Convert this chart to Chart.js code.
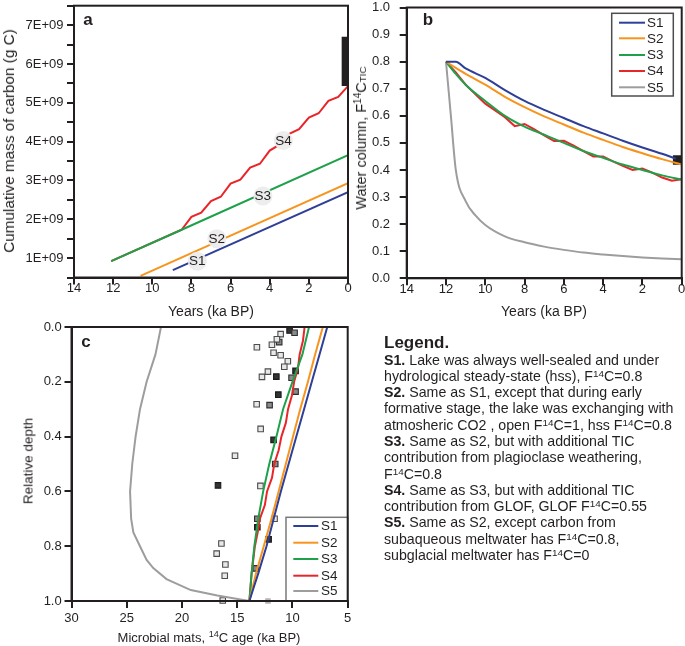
<!DOCTYPE html>
<html>
<head>
<meta charset="utf-8">
<script src="https://cdn.jsdelivr.net/npm/chart.js@4"></script>
<style>
  body { margin: 0; width: 685px; height: 646px; overflow: hidden; background: #fff; position: relative;
         font-family: "Liberation Sans", Arial, sans-serif; color: #231f20; }
  canvas { position: absolute; }
  .t { position: absolute; font-size: 13px; white-space: nowrap; }
  .rot { transform: translate(-50%, -50%) rotate(-90deg); }
  .ctr { transform: translate(-50%, -50%); }
  .pl { position: absolute; font-weight: bold; font-size: 17px; transform: translate(-50%, -50%); }
  sup { font-size: 0.7em; line-height: 0; vertical-align: 0.45em; }
  .sm { font-size: 0.68em; }
  #notes { position: absolute; left: 384px; top: 333px; font-size: 14.2px; line-height: 16.3px; white-space: nowrap; }
  #notes .hd { font-weight: bold; font-size: 17px; line-height: 19px; margin-bottom: -0.5px; }
</style>
</head>
<body>
<canvas id="ca" width="360" height="330" style="left:0;top:-10px"></canvas>
<canvas id="cb" width="360" height="330" style="left:340px;top:-10px"></canvas>
<canvas id="cc" width="360" height="336" style="left:0;top:310px"></canvas>

<div class="pl" style="left:88px;top:20px">a</div>
<div class="pl" style="left:428px;top:20px">b</div>
<div class="pl" style="left:86px;top:342px">c</div>

<div class="t rot" style="left:9px;top:141px;font-size:15.3px">Cumulative mass of carbon (g C)</div>
<div class="t ctr" style="left:211px;top:311px;font-size:14px">Years (ka BP)</div>
<div class="t rot" style="left:361px;top:138px;font-size:14.5px">Water column, F<sup>14</sup>C<span class="sm">TIC</span></div>
<div class="t ctr" style="left:544px;top:311px;font-size:14px">Years (ka BP)</div>
<div class="t rot" style="left:28px;top:461px;font-size:13.5px">Relative depth</div>
<div class="t ctr" style="left:209px;top:637px">Microbial mats, <sup>14</sup>C age (ka BP)</div>

<div id="notes">
<div class="hd">Legend.</div>
<b>S1.</b> Lake was always well-sealed and under<br>
hydrological steady-state (hss), F<sup>14</sup>C=0.8<br>
<b>S2.</b> Same as S1, except that during early<br>
formative stage, the lake was exchanging with<br>
atmosheric CO2 , open F<sup>14</sup>C=1, hss F<sup>14</sup>C=0.8<br>
<b>S3.</b> Same as S2, but with additional TIC<br>
contribution from plagioclase weathering,<br>
F<sup>14</sup>C=0.8<br>
<b>S4.</b> Same as S3, but with additional TIC<br>
contribution from GLOF, GLOF F<sup>14</sup>C=0.55<br>
<b>S5.</b> Same as S2, except carbon from<br>
subaqueous meltwater has F<sup>14</sup>C=0.8,<br>
subglacial meltwater has F<sup>14</sup>C=0
</div>

<script>
// ---- panel a: cumulative mass of carbon (units of 1E+09 g C) vs ka BP
const aYearsS1 = [8.95, 0];
const aMassS1 = [0.69, 2.70];
const aYearsS2 = [10.6, 0];
const aMassS2 = [0.54, 2.93];
const aYearsS3 = [12.1, 8.5, 0];
const aMassS3 = [0.92, 1.73, 3.65];
const aYearsS4 = [12.1, 8.5, 8.0, 7.5, 7.0, 6.5, 6.0, 5.5, 5.0, 4.5, 4.0, 3.5, 3.0, 2.5, 2.0, 1.5, 1.0, 0.5, 0];
const aMassS4 = [0.92, 1.73, 2.06, 2.17, 2.47, 2.58, 2.92, 3.02, 3.33, 3.43, 3.77, 3.92, 4.2, 4.32, 4.62, 4.73, 5.05, 5.15, 5.43];
const aObsYears = [0.17, 0.17];
const aObsMass = [5.43, 6.7];
const aTagText = ['S1', 'S2', 'S3', 'S4'];
const aTagYears = [7.7, 6.7, 4.35, 3.3];
const aTagMass = [0.92, 1.5, 2.6, 4.03];

// ---- panel b: water column F14C TIC vs ka BP
const bYearsS1 = [12, 11.5, 11, 10, 9, 8, 7, 6, 5, 4, 3, 2, 1, 0.3];
const bFS1 = [0.8, 0.8, 0.775, 0.74, 0.695, 0.655, 0.622, 0.592, 0.562, 0.535, 0.508, 0.483, 0.46, 0.442];
const bYearsS2 = [12, 11.5, 11, 10, 9, 8, 7, 6, 5, 4, 3, 2, 1, 0];
const bFS2 = [0.8, 0.777, 0.755, 0.715, 0.67, 0.632, 0.598, 0.568, 0.538, 0.511, 0.485, 0.462, 0.44, 0.42];
const bYearsS3 = [12, 11.5, 11, 10.5, 10, 9, 8, 7, 6, 5, 4, 3, 2, 1, 0];
const bFS3 = [0.8, 0.755, 0.715, 0.683, 0.655, 0.6, 0.56, 0.53, 0.5, 0.47, 0.445, 0.42, 0.4, 0.38, 0.365];
const bYearsS4 = [12, 11.5, 11, 10.5, 10, 9.5, 9, 8.5, 8, 7.5, 7, 6.5, 6, 5.5, 5, 4.5, 4, 3.5, 3, 2.5, 2, 1.5, 1, 0.5, 0];
const bFS4 = [0.8, 0.76, 0.715, 0.68, 0.645, 0.62, 0.595, 0.562, 0.57, 0.55, 0.528, 0.507, 0.508, 0.49, 0.47, 0.45, 0.45, 0.432, 0.415, 0.4, 0.405, 0.39, 0.372, 0.36, 0.366];
const bYearsS5 = [12, 11.75, 11.5, 11, 10.5, 10, 9, 8, 7, 6, 5, 4, 3, 2, 1, 0];
const bFS5 = [0.8, 0.6, 0.4, 0.285, 0.232, 0.197, 0.155, 0.133, 0.117, 0.105, 0.095, 0.088, 0.082, 0.077, 0.073, 0.07];
const bObsYears = [0.21];
const bObsF = [0.437];

// ---- panel c: microbial mats 14C age (ka BP) vs relative depth
const cDepth = [0, 0.1, 0.2, 0.3, 0.4, 0.5, 0.6, 0.7, 0.8, 0.9, 0.95, 1.0];
const cAgeS1 = [6.85, 7.55, 8.25, 8.95, 9.65, 10.35, 11.05, 11.7, 12.35, 13.1, 13.5, 13.9];
const cAgeS2 = [7.25, 7.95, 8.6, 9.3, 9.95, 10.6, 11.25, 11.9, 12.6, 13.3, 13.6, 13.9];
const cAgeS3 = [8.5, 9.1, 10.0, 10.85, 11.45, 12.1, 12.65, 13.1, 13.45, 13.7, 13.8, 13.9];
const cDepthS4 = [0, 0.05, 0.1, 0.15, 0.2, 0.25, 0.3, 0.35, 0.4, 0.45, 0.5, 0.55, 0.6, 0.65, 0.7, 0.75, 0.8, 0.9, 1.0];
const cAgeS4 = [8.9, 9.05, 9.35, 9.5, 9.85, 10.05, 10.4, 10.6, 11.0, 11.25, 11.65, 11.85, 12.3, 12.5, 12.95, 13.15, 13.4, 13.7, 13.9];
const cDepthS5 = [0, 0.1, 0.2, 0.3, 0.4, 0.5, 0.6, 0.7, 0.75, 0.8, 0.85, 0.88, 0.92, 0.96, 0.98, 1.0];
const cAgeS5 = [21.9, 22.4, 23.2, 23.8, 24.2, 24.5, 24.7, 24.6, 24.4, 23.8, 23.2, 22.6, 21.4, 19.2, 16.8, 13.9];
const cLightAge = [11.07, 11.41, 11.86, 13.22, 11.71, 11.07, 10.42, 10.74, 12.22, 12.76, 13.24, 12.88, 15.2, 12.9, 11.62, 16.43, 16.86, 16.07, 16.13, 16.31];
const cLightDepth = [0.026, 0.045, 0.065, 0.074, 0.094, 0.103, 0.125, 0.145, 0.163, 0.182, 0.282, 0.372, 0.47, 0.58, 0.70, 0.79, 0.827, 0.867, 0.908, 0.998];
const cMedAge = [9.81, 11.2, 10.08, 9.72, 12.07, 11.56, 13.18, 13.33];
const cMedDepth = [0.021, 0.055, 0.185, 0.236, 0.285, 0.5, 0.70, 0.881];
const cDarkAge = [10.26, 9.72, 11.46, 11.28, 11.71, 16.74, 13.18, 12.16];
const cDarkDepth = [0.013, 0.16, 0.181, 0.247, 0.412, 0.578, 0.731, 0.775];
const cPaleAge = [12.22];
const cPaleDepth = [1.0];

const INK = '#231f20';
const BLUE = '#2e3f98', ORANGE = '#f7941d', GREEN = '#1fa04a', RED = '#e8262a', GREY = '#9d9d9d';

Chart.defaults.font.family = '"Liberation Sans", Arial, sans-serif';
Chart.defaults.font.size = 13;
Chart.defaults.color = INK;

const pts = (xs, ys) => xs.map((x, i) => ({ x: x, y: ys[i] }));

function line(label, xs, ys, color, extra) {
  return Object.assign({ label, data: pts(xs, ys), showLine: true, borderColor: color, backgroundColor: color,
    borderWidth: 2, pointRadius: 0, inLegend: true }, extra || {});
}

function marks(xs, ys, fill, border) {
  return { data: pts(xs, ys), pointStyle: 'rect', pointRadius: 3.9, borderWidth: border ? 1.1 : 0,
    backgroundColor: fill, borderColor: border || fill, clip: false };
}

function axis(o) {
  return {
    type: 'linear', min: o.min, max: o.max, reverse: !!o.reverse,
    grid: { drawOnChartArea: false, drawTicks: true, tickLength: 7, lineWidth: 2, color: INK },
    border: { display: true, width: 2, color: INK },
    ticks: { stepSize: o.step, padding: o.pad, color: INK, font: { size: 13 }, maxRotation: 0, autoSkip: false,
      callback: o.fmt || (v => v) },
    afterFit: o.fit
  };
}

const frame = {
  id: 'frame',
  afterDatasetsDraw(chart) {
    const { ctx, chartArea: a } = chart;
    ctx.save();
    ctx.strokeStyle = INK;
    ctx.lineWidth = 2;
    ctx.strokeRect(a.left, a.top, a.right - a.left, a.bottom - a.top);
    ctx.restore();
  }
};

const legendBox = {
  id: 'legendBox',
  afterDatasetsDraw(chart, args, o) {
    if (!o || !o.rows) return;
    const ctx = chart.ctx;
    const items = chart.data.datasets.filter(d => d.inLegend);
    ctx.save();
    ctx.fillStyle = '#fff';
    ctx.fillRect(o.x, o.y, o.w, o.h);
    ctx.strokeStyle = o.border;
    ctx.lineWidth = 1.5;
    ctx.strokeRect(o.x, o.y, o.w, o.h);
    ctx.font = '13.5px "Liberation Sans", Arial, sans-serif';
    ctx.textBaseline = 'middle';
    items.forEach((d, i) => {
      const y = o.rows[i];
      ctx.strokeStyle = d.borderColor;
      ctx.lineWidth = 2;
      ctx.beginPath(); ctx.moveTo(o.lx0, y); ctx.lineTo(o.lx1, y); ctx.stroke();
      ctx.fillStyle = INK;
      ctx.fillText(d.label, o.tx, y + 0.5);
    });
    ctx.restore();
  }
};

const lineTags = {
  id: 'lineTags',
  afterDatasetsDraw(chart) {
    const { ctx, scales: { x, y } } = chart;
    ctx.save();
    ctx.font = '13.5px "Liberation Sans", Arial, sans-serif';
    ctx.textAlign = 'center';
    ctx.textBaseline = 'middle';
    aTagText.forEach((t, i) => {
      const px = x.getPixelForValue(aTagYears[i]), py = y.getPixelForValue(aTagMass[i]);
      ctx.fillStyle = 'rgba(236,236,236,0.95)';
      ctx.beginPath(); ctx.arc(px, py, 9.5, 0, Math.PI * 2); ctx.fill();
      ctx.fillStyle = INK;
      ctx.fillText(t, px, py + 0.5);
    });
    ctx.restore();
  }
};

const base = {
  responsive: false, animation: false, devicePixelRatio: 1,
  plugins: { legend: { display: false }, tooltip: { enabled: false } }
};
const smooth = { cubicInterpolationMode: 'monotone' };

// panel a
new Chart(document.getElementById('ca'), {
  type: 'scatter',
  data: { datasets: [
    line('S1', aYearsS1, aMassS1, BLUE),
    line('S2', aYearsS2, aMassS2, ORANGE),
    line('S3', aYearsS3, aMassS3, GREEN),
    line('S4', aYearsS4, aMassS4, RED),
    { data: pts(aObsYears, aObsMass), showLine: true, borderColor: INK, borderWidth: 6, borderCapStyle: 'butt', pointRadius: 0 }
  ] },
  options: Object.assign({}, base, {
    layout: { padding: { left: 0, top: 15.7, right: 12, bottom: 0 } },
    scales: {
      x: axis({ min: 0, max: 14, reverse: true, step: 2, pad: -4, fit: s => { s.height = 42.5; } }),
      y: axis({ min: 0.5, max: 7.5, step: 0.5, pad: 3.5, fmt: v => Number.isInteger(v) ? v + 'E+09' : '',
        fit: s => { s.width = 74; } })
    }
  }),
  plugins: [lineTags, frame]
});

// panel b
new Chart(document.getElementById('cb'), {
  type: 'scatter',
  data: { datasets: [
    line('S1', bYearsS1, bFS1, BLUE, smooth),
    line('S2', bYearsS2, bFS2, ORANGE, smooth),
    line('S3', bYearsS3, bFS3, GREEN, smooth),
    line('S4', bYearsS4, bFS4, RED),
    line('S5', bYearsS5, bFS5, GREY, smooth),
    { data: pts(bObsYears, bObsF), pointStyle: 'rect', pointRadius: 6.6, backgroundColor: INK, borderWidth: 0 }
  ] },
  options: Object.assign({}, base, {
    layout: { padding: { left: 0, top: 15.7, right: 18.3, bottom: 0 } },
    plugins: Object.assign({}, base.plugins, {
      legendBox: { x: 271.7, y: 23.3, w: 61.6, h: 82.7, border: '#4d4d4d',
        rows: [32.7, 48.3, 65, 81, 97.3], lx0: 279, lx1: 305, tx: 307 }
    }),
    scales: {
      x: axis({ min: 0, max: 14, reverse: true, step: 2, pad: -4, fit: s => { s.height = 41.7; } }),
      y: axis({ min: 0, max: 1, step: 0.1, pad: 9.7, fmt: v => v.toFixed(1), fit: s => { s.width = 66.7; } })
    }
  }),
  plugins: [legendBox, frame]
});

// panel c
new Chart(document.getElementById('cc'), {
  type: 'scatter',
  data: { datasets: [
    line('S1', cAgeS1, cDepth, BLUE),
    line('S2', cAgeS2, cDepth, ORANGE),
    line('S3', cAgeS3, cDepth, GREEN),
    line('S4', cAgeS4, cDepthS4, RED),
    line('S5', cAgeS5, cDepthS5, GREY),
    marks(cLightAge, cLightDepth, '#e8e8e8', '#4d4d4d'),
    marks(cMedAge, cMedDepth, '#8a8a8a', '#2e2e2e'),
    marks(cDarkAge, cDarkDepth, '#333333', '#1a1a1a'),
    marks(cPaleAge, cPaleDepth, '#b5b5b5', null)
  ] },
  options: Object.assign({}, base, {
    layout: { padding: { left: 0, top: 17, right: 12.3, bottom: 0 } },
    plugins: Object.assign({}, base.plugins, {
      legendBox: { x: 286, y: 207.3, w: 61.7, h: 83.7, border: '#7a7a7a',
        rows: [216, 232.7, 249, 265.7, 281], lx0: 293.3, lx1: 318.3, tx: 321 }
    }),
    scales: {
      x: axis({ min: 5, max: 30, reverse: true, step: 5, pad: 2.5, fit: s => { s.height = 45; } }),
      y: axis({ min: 0, max: 1, reverse: true, step: 0.2, pad: 2.8, fmt: v => v.toFixed(1), fit: s => { s.width = 71.5; } })
    }
  }),
  plugins: [legendBox, frame]
});
</script>
</body>
</html>
